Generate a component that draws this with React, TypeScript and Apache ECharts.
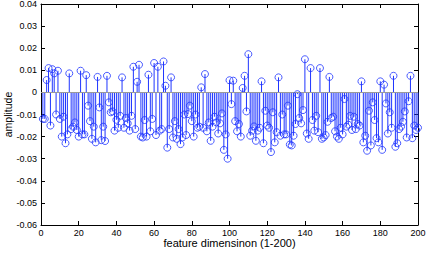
import React, { useEffect, useRef } from "react";
import * as echarts from "echarts";

// amplitude for feature dimension 1..200
const amplitude: number[] = [
  -0.012, -0.012, 0.0056, 0.011, -0.015, 0.0105, 0.0086, -0.010, 0.0098, -0.012,
  -0.020, -0.011, -0.023, -0.019, 0.0086, -0.0166, -0.0155, -0.0136, -0.017, -0.020,
  0.0098, -0.019, -0.019, 0.0078, -0.006, -0.013, -0.021, -0.0155, -0.0226, 0.007,
  -0.0068, -0.0216, -0.0155, -0.022, 0.0075, -0.0045, -0.009, -0.0086, -0.0173, -0.0124,
  -0.016, -0.0106, 0.0068, -0.016, -0.0116, -0.014, -0.0173, -0.0106, 0.0116, -0.0166,
  0.0048, 0.0125, -0.020, -0.0204, -0.0125, -0.020, 0.008, -0.0176, -0.012, 0.0133,
  -0.0193, 0.0116, -0.0173, -0.0166, 0.014, 0.003, -0.025, -0.0166, 0.0068, -0.0204,
  -0.013, -0.021, -0.0166, -0.0234, -0.0204, -0.010, -0.0193, -0.0098, -0.006, -0.013,
  -0.020, -0.010, -0.016, -0.0155, 0.0023, -0.016, 0.0083, -0.0176, -0.0136, -0.0219,
  -0.0155, -0.011, -0.0136, -0.0186, -0.014, -0.0095, -0.026, -0.019, -0.030, 0.0055,
  -0.0053, 0.0053, -0.013, -0.0176, -0.0143, -0.020, 0.002, 0.0075, -0.0086, 0.0173,
  -0.0196, -0.0173, -0.0154, -0.0219, -0.0173, -0.016, 0.005, -0.023, -0.0083, -0.015,
  -0.016, -0.027, -0.009, -0.0226, -0.018, 0.0068, -0.0196, -0.010, -0.019, -0.019,
  -0.006, -0.0236, -0.024, -0.0196, -0.0143, -0.0008, -0.0116, -0.014, -0.008, 0.015,
  -0.0186, -0.021, 0.011, -0.0125, -0.0173, -0.0106, -0.018, 0.011, -0.021, -0.0204,
  -0.0193, -0.0133, 0.007, -0.0116, -0.011, -0.0176, -0.020, -0.021, -0.016, -0.019,
  -0.003, -0.0155, -0.0146, -0.0106, -0.017, -0.011, -0.0166, -0.0143, -0.015, 0.005,
  -0.0226, -0.0196, -0.0264, -0.0083, -0.024, -0.0045, -0.0125, -0.0207, -0.0226, 0.005,
  -0.026, 0.0035, -0.005, -0.0186, -0.009, -0.016, 0.0075, -0.0246, -0.023, -0.0166,
  -0.0155, -0.0133, -0.0086, -0.0204, -0.004, 0.0075, -0.0207, -0.015, -0.017, -0.016,
];

const xTicks = [0, 20, 40, 60, 80, 100, 120, 140, 160, 180, 200];
const yTicks = [-0.06, -0.05, -0.04, -0.03, -0.02, -0.01, 0, 0.01, 0.02, 0.03, 0.04];

const BLUE = "#1f35ff";
const FONT = "Liberation Sans, Arial, Helvetica, sans-serif";

export default function App() {
  const ref = useRef<HTMLDivElement>(null);
  useEffect(() => {
    document.body.style.margin = "0";
    if (!ref.current) return;
    const chart = echarts.init(ref.current, undefined, { renderer: "svg" });
    const points = amplitude.map((v, i) => [i + 1, v]);
    const fmtY = (v: number) => {
      const r = Math.round(v * 100) / 100;
      return r === 0 ? "0" : r.toFixed(2);
    };
    const axisCommon = {
      axisLine: { show: true, onZero: false, lineStyle: { color: "#000", width: 1 } },
      axisTick: { show: true, inside: true, length: 4, lineStyle: { color: "#000" } },
      splitLine: { show: false },
    };
    chart.setOption({
      animation: false,
      backgroundColor: "#fff",
      grid: {
        left: 41,
        top: 4,
        right: 11,
        bottom: 28,
        show: false,
        containLabel: false,
        outerBoundsMode: "none",
      },
      xAxis: [
        {
          type: "value",
          min: xTicks[0],
          max: xTicks[xTicks.length - 1],
          interval: 20,
          position: "bottom",
          ...axisCommon,
          axisLabel: { fontSize: 9, color: "#000", fontFamily: FONT, margin: 3 },
          name: "feature dimensinon (1-200)",
          nameLocation: "middle",
          nameGap: 12,
          nameMoveOverlap: false,
          nameTextStyle: { fontSize: 11, color: "#000", fontFamily: FONT },
        },
        {
          type: "value",
          min: xTicks[0],
          max: xTicks[xTicks.length - 1],
          interval: 20,
          position: "top",
          ...axisCommon,
          axisLabel: { show: false },
        },
      ],
      yAxis: [
        {
          type: "value",
          min: yTicks[0],
          max: yTicks[yTicks.length - 1],
          interval: 0.01,
          position: "left",
          ...axisCommon,
          axisLabel: { fontSize: 9, color: "#000", fontFamily: FONT, margin: 4, formatter: fmtY },
          name: "amplitude",
          nameLocation: "middle",
          nameRotate: 90,
          nameGap: 28,
          nameMoveOverlap: false,
          nameTextStyle: { fontSize: 10.5, color: "#000", fontFamily: FONT },
        },
        {
          type: "value",
          min: yTicks[0],
          max: yTicks[yTicks.length - 1],
          interval: 0.01,
          position: "right",
          ...axisCommon,
          axisLabel: { show: false },
        },
      ],
      series: [
        {
          type: "custom",
          xAxisIndex: 0,
          yAxisIndex: 0,
          data: points,
          silent: true,
          z: 2,
          renderItem: (_params: any, api: any) => {
            const x = api.value(0);
            const y = api.value(1);
            const p0 = api.coord([x, 0]);
            const p1 = api.coord([x, y]);
            return {
              type: "line",
              shape: { x1: p0[0], y1: p0[1], x2: p1[0], y2: p1[1] },
              style: { stroke: BLUE, lineWidth: 1 },
            };
          },
        },
        {
          type: "scatter",
          xAxisIndex: 0,
          yAxisIndex: 0,
          data: points,
          symbol: "circle",
          symbolSize: 7,
          z: 4,
          itemStyle: { color: "rgba(0,0,0,0)", borderColor: BLUE, borderWidth: 1 },
          markLine: {
            silent: true,
            symbol: "none",
            z: 3,
            label: { show: false },
            lineStyle: { color: "#9a9a9a", width: 1, type: "solid" },
            data: [{ yAxis: 0 }],
          },
        },
      ],
    });
    return () => chart.dispose();
  }, []);
  return <div ref={ref} style={{ width: 429, height: 253 }} />;
}
